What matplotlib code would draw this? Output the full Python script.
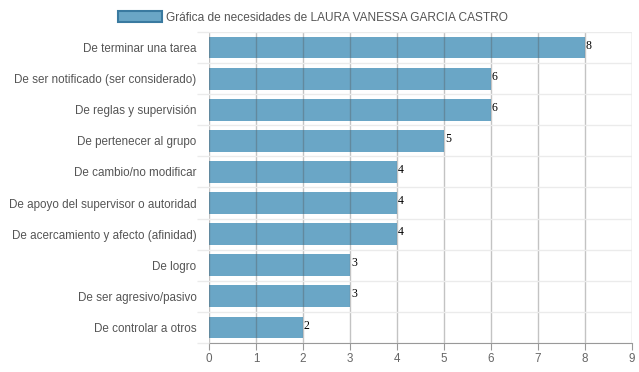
import matplotlib.pyplot as plt
import numpy as np

categorias = ['De terminar una tarea', 'De ser notificado (ser considerado)',
              'De reglas y supervisión', 'De pertenecer al grupo',
              'De cambio/no modificar', 'De apoyo del supervisor o autoridad',
              'De acercamiento y afecto (afinidad)', 'De logro',
              'De ser agresivo/pasivo', 'De controlar a otros']
valores = [8, 6, 6, 5, 4, 4, 4, 3, 3, 2]
titulo = 'Gráfica de necesidades de LAURA VANESSA GARCIA CASTRO'

plt.rcParams['font.family'] = ['Liberation Sans', 'DejaVu Sans']

fig = plt.figure(figsize=(6.39, 3.72), dpi=100)
ax = fig.add_axes([209/639, 1 - 343/372, 423/639, 311/372])

y = np.arange(len(categorias))
bars = ax.barh(y, valores, height=0.7, color='#6aa6c6', zorder=1, label=titulo)

for yi, v in zip(y, valores):
    ax.text(v + 0.02, yi - 0.06, str(v), fontsize=8.5, family='Liberation Serif',
            color='black', va='center', ha='left', zorder=3)

ax.set_xlim(0, 9)
ax.set_ylim(len(categorias) - 0.5, -0.5)
ax.set_xticks(range(10))
ax.set_yticks(y)
ax.set_yticklabels(categorias, fontsize=8.4, color='#555555')
ax.set_yticks(np.arange(-0.5, len(categorias), 1), minor=True)
ax.tick_params(axis='y', which='major', length=0, pad=9)
ax.tick_params(axis='y', which='minor', length=9, color='#ebebeb', width=1)
ax.tick_params(axis='x', length=5, color='#999999', labelsize=8.4, labelcolor='#666666', pad=2)

ax.grid(axis='x', color='#555555', alpha=0.35, linewidth=1, zorder=2)
ax.grid(axis='y', which='minor', color='#ebebeb', linewidth=1, zorder=0)
ax.set_axisbelow(False)

for s in ['top', 'right', 'left']:
    ax.spines[s].set_visible(False)
ax.spines['bottom'].set_color('#999999')

leg = fig.legend(handles=[bars], labels=[titulo], loc='upper center',
                 bbox_to_anchor=(0.49, 1.0), frameon=False, fontsize=8.6,
                 handlelength=3.7, handleheight=1.1, handletextpad=0.3)
for t in leg.get_texts():
    t.set_color('#555555')
leg.legend_handles[0].set_edgecolor('#3a7aa0')
leg.legend_handles[0].set_linewidth(1.5)

fig.savefig('out.png', dpi=100)
